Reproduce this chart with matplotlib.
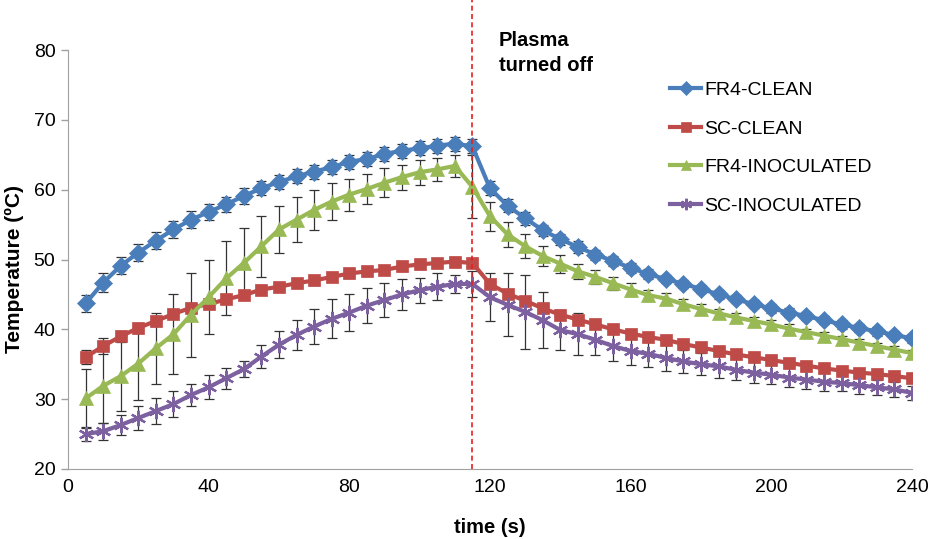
import numpy as np
import matplotlib.pyplot as plt

plt.rcParams['font.family'] = ['Liberation Sans', 'DejaVu Sans']

# sampling times (s)
time_s = list(range(5, 245, 5))

fr4_clean = [43.7, 46.7, 49.1, 51.0, 52.7, 54.3, 55.7, 56.8, 57.9, 59.1, 60.2, 61.1,
             61.9, 62.6, 63.2, 64.0, 64.4, 65.1, 65.6, 65.9, 66.3, 66.6, 66.2,
             60.2, 57.7, 55.9, 54.2, 52.9, 51.8, 50.7, 49.8, 48.8, 47.9, 47.2,
             46.5, 45.8, 45.0, 44.3, 43.6, 43.0, 42.4, 41.9, 41.3, 40.7, 40.2,
             39.7, 39.2, 38.7]
fr4_clean_err = [1.2, 1.3, 1.2, 1.2, 1.2, 1.2, 1.2, 1.1, 1.1, 1.1, 1.0, 1.0,
                 1.0, 1.0, 1.0, 1.0, 1.0, 1.0, 1.0, 1.0, 1.0, 1.0, 1.0,
                 1.0, 0.9, 0.9, 0.8, 0.8, 0.8, 0.7, 0.7, 0.7, 0.7, 0.6,
                 0.6, 0.6, 0.6, 0.6, 0.6, 0.6, 0.6, 0.6, 0.6, 0.6, 0.6,
                 0.6, 0.6, 0.6]

sc_clean = [36.0, 37.6, 39.0, 40.2, 41.2, 42.2, 43.1, 43.6, 44.3, 44.9, 45.7, 46.1,
            46.6, 47.0, 47.5, 48.0, 48.3, 48.5, 49.0, 49.3, 49.5, 49.7, 49.5,
            46.5, 45.1, 44.1, 43.0, 42.1, 41.4, 40.7, 40.0, 39.4, 38.9, 38.5,
            37.9, 37.4, 36.9, 36.4, 36.0, 35.6, 35.2, 34.8, 34.4, 34.1, 33.8,
            33.6, 33.3, 33.0]
sc_clean_err = [1.0, 1.2, 0.8, 0.7, 0.7, 0.6, 0.6, 0.6, 0.6, 0.6, 0.6, 0.6,
                0.6, 0.6, 0.6, 0.6, 0.6, 0.6, 0.6, 0.6, 0.6, 0.6, 0.6,
                0.6, 0.6, 0.6, 0.6, 0.6, 0.6, 0.5, 0.5, 0.5, 0.5, 0.5,
                0.5, 0.5, 0.5, 0.5, 0.5, 0.5, 0.5, 0.5, 0.5, 0.5, 0.5,
                0.5, 0.5, 0.5]

fr4_inoc = [30.1, 31.9, 33.3, 35.1, 37.3, 39.3, 42.1, 44.6, 47.3, 49.5, 51.9, 54.3,
            55.7, 57.1, 58.3, 59.3, 60.1, 61.0, 61.8, 62.5, 62.9, 63.4, 60.4,
            56.2, 53.6, 51.9, 50.5, 49.4, 48.3, 47.5, 46.6, 45.7, 44.9, 44.4,
            43.6, 42.9, 42.3, 41.7, 41.2, 40.7, 40.1, 39.6, 39.1, 38.6, 38.1,
            37.6, 37.1, 36.6]
fr4_inoc_err = [4.2, 5.3, 5.0, 5.2, 5.1, 5.7, 6.0, 5.3, 5.3, 5.0, 4.4, 3.4,
                3.2, 2.9, 2.6, 2.3, 2.2, 2.1, 1.8, 1.8, 1.6, 1.6, 4.5,
                2.1, 1.8, 1.7, 1.4, 1.3, 1.1, 1.0, 0.9, 0.9, 0.8, 0.8,
                0.7, 0.7, 0.6, 0.6, 0.6, 0.6, 0.6, 0.5, 0.5, 0.5, 0.5,
                0.5, 0.5, 0.5]

sc_inoc = [25.0, 25.4, 26.3, 27.3, 28.3, 29.3, 30.6, 31.7, 33.0, 34.3, 36.1, 37.8,
           39.2, 40.4, 41.5, 42.4, 43.4, 44.2, 45.0, 45.6, 46.1, 46.5, 46.5,
           44.6, 43.5, 42.5, 41.3, 39.9, 39.3, 38.5, 37.6, 36.9, 36.5, 35.9,
           35.4, 35.0, 34.7, 34.2, 33.8, 33.5, 33.1, 32.8, 32.5, 32.3, 32.0,
           31.7, 31.4, 30.9]
sc_inoc_err = [1.0, 1.2, 1.4, 1.7, 1.8, 1.9, 1.6, 1.7, 1.5, 1.1, 1.7, 1.9,
               2.2, 2.5, 2.8, 2.6, 2.5, 2.4, 2.2, 1.8, 1.9, 1.3, 1.8,
               3.4, 4.5, 5.3, 4.0, 2.8, 3.0, 2.2, 2.1, 2.0, 1.9, 1.8,
               1.7, 1.6, 1.6, 1.5, 1.5, 1.4, 1.4, 1.3, 1.3, 1.2, 1.2,
               1.1, 1.1, 1.0]

plasma_off = 115

series = [
    ('FR4-CLEAN', fr4_clean, fr4_clean_err, '#4A7EBB', 'D', 9),
    ('SC-CLEAN', sc_clean, sc_clean_err, '#BE4B48', 's', 9),
    ('FR4-INOCULATED', fr4_inoc, fr4_inoc_err, '#98B954', '^', 10.5),
    ('SC-INOCULATED', sc_inoc, sc_inoc_err, '#7D60A0', (6, 2, 0), 11),
]

fig = plt.figure(figsize=(9.3, 5.39), dpi=100)
ax = fig.add_axes([0.0731, 0.1299, 0.9075, 0.7773])

# error bars first so the lines sit on top
for name, vals, err, color, marker, ms in series:
    ax.errorbar(time_s, vals, yerr=err, fmt='none', ecolor='#333333',
                elinewidth=0.9, capsize=3.5, capthick=0.9, zorder=2)

for name, vals, err, color, marker, ms in series:
    mew = 1.6 if marker == (6, 2, 0) else 0.5
    ax.plot(time_s, vals, color=color, lw=3, marker=marker, markersize=ms,
            markerfacecolor=color, markeredgecolor=color, markeredgewidth=mew,
            label=name, zorder=3)

ax.axvline(plasma_off, ymin=0, ymax=1.12, color='#E8201E', lw=1.2,
           ls=(0, (3, 2)), clip_on=False, zorder=4)
ax.text(plasma_off + 7.5, 82.7, 'Plasma\nturned off', fontsize=14.5,
        fontweight='bold', va='top', ha='left', linespacing=1.4)

ax.set_xlim(0, 240)
ax.set_ylim(20, 80)
ax.set_xticks(range(0, 241, 40))
ax.set_yticks(range(20, 81, 10))
ax.tick_params(labelsize=14, color='#A0A0A0', length=5, width=1)
ax.tick_params(axis='x', length=0, pad=7)
ax.tick_params(axis='y', pad=4)
for side in ('top', 'right'):
    ax.spines[side].set_visible(False)
for side in ('left', 'bottom'):
    ax.spines[side].set_color('#A0A0A0')

ax.set_xlabel('time (s)', fontsize=14.5, fontweight='bold')
ax.xaxis.set_label_coords(0.5, -0.117)
ax.set_ylabel('Temperature (ºC)', fontsize=15, fontweight='bold')
ax.yaxis.set_label_coords(-0.052, 0.478)

ax.legend(loc='upper left', bbox_to_anchor=(0.693, 0.967), frameon=False,
          fontsize=14, handlelength=1.6, handletextpad=0.15,
          labelspacing=1.08, markerscale=0.75)

fig.savefig('out.png', dpi=100)
